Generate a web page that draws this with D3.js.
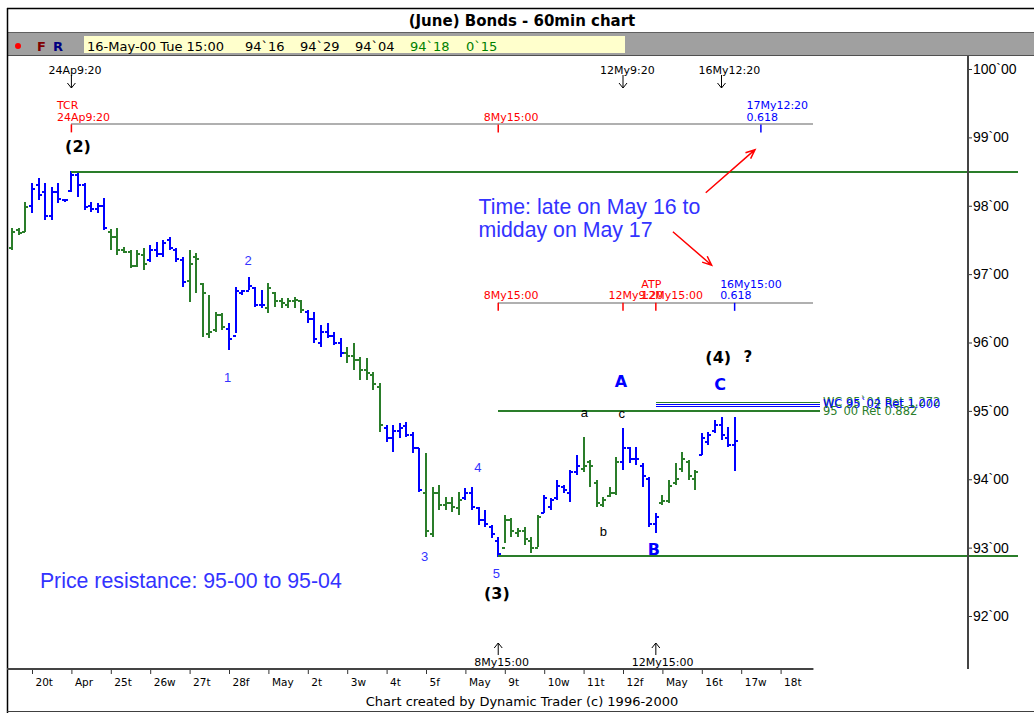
<!DOCTYPE html>
<html lang="en">
<head>
<meta charset="UTF-8">
<title>(June) Bonds - 60min chart</title>
<script src="https://d3js.org/d3.v7.min.js"></script>
<style>
  body, html { margin: 0; padding: 0; background: #fff; }
  svg { display: block; }
</style>
</head>
<body>
<div id="chart"></div>
<script>
// hourly bars, last 3 bars of 19-Apr through 16-May-00, 6 bars a day
const opens = [97.38, 97.64, 97.62,
  98.00, 98.30, 98.20, 97.85, 98.20, 98.08,
  98.22, 98.45, 98.30, 98.00, 97.95, 98.00,
  97.62, 97.55, 97.35, 97.32, 97.12, 97.28,
  97.20, 97.35, 97.30, 97.50, 97.36, 97.20,
  96.90, 97.25, 96.85, 96.12, 96.18, 96.40,
  96.20, 96.10, 96.72, 96.75, 96.80, 96.55,
  96.50, 96.72, 96.60, 96.55, 96.60, 96.60,
  96.45, 96.35, 96.00, 96.15, 96.10, 96.00,
  95.85, 95.80, 95.75, 95.60, 95.52, 95.35,
  94.75, 94.60, 94.70, 94.78, 94.65, 94.45,
  93.80, 93.20, 93.80, 93.62, 93.65, 93.58,
  93.72, 93.80, 93.58, 93.40, 93.30, 93.10,
  93.00, 93.40, 93.22, 93.25, 93.10, 93.00,
  93.50, 93.60, 93.72, 93.88, 93.80, 94.10,
  94.15, 94.25, 93.95, 93.62, 93.75, 93.80,
  94.25, 94.45, 94.30, 94.20, 94.00, 93.35,
  93.65, 93.68, 93.95, 94.15, 94.25, 94.00,
  94.35, 94.55, 94.70, 94.80, 94.60, 94.50];
const highs = [97.68, 97.68, 98.06,
  98.33, 98.41, 98.33, 98.27, 98.33, 98.10,
  98.51, 98.51, 98.33, 98.06, 98.04, 98.11,
  97.66, 97.68, 97.40, 97.35, 97.35, 97.38,
  97.43, 97.47, 97.50, 97.54, 97.38, 97.25,
  97.35, 97.31, 96.87, 96.70, 96.45, 96.43,
  96.29, 96.81, 96.77, 96.96, 96.81, 96.77,
  96.87, 96.74, 96.65, 96.65, 96.67, 96.62,
  96.48, 96.45, 96.26, 96.29, 96.15, 96.07,
  95.94, 95.99, 95.79, 95.77, 95.57, 95.41,
  94.80, 94.80, 94.82, 94.84, 94.69, 94.46,
  94.39, 93.89, 93.92, 93.74, 93.74, 93.82,
  93.87, 93.89, 93.60, 93.55, 93.33, 93.16,
  93.48, 93.44, 93.29, 93.30, 93.16, 93.48,
  93.77, 93.73, 93.99, 93.92, 94.14, 94.36,
  94.62, 94.28, 93.99, 93.74, 93.89, 94.33,
  94.75, 94.47, 94.47, 94.24, 94.04, 93.51,
  93.77, 93.99, 94.24, 94.40, 94.28, 94.14,
  94.68, 94.69, 94.87, 94.91, 94.77, 94.906];
const lows = [97.35, 97.57, 97.62,
  97.89, 98.08, 97.79, 97.79, 98.04, 98.06,
  98.20, 98.13, 97.94, 97.91, 97.89, 97.65,
  97.35, 97.28, 97.31, 97.09, 97.11, 97.06,
  97.18, 97.25, 97.25, 97.35, 97.18, 96.81,
  96.59, 96.73, 96.08, 96.07, 96.15, 96.18,
  95.89, 96.14, 96.70, 96.77, 96.52, 96.51,
  96.43, 96.52, 96.51, 96.51, 96.51, 96.43,
  96.29, 95.99, 95.94, 96.07, 95.96, 95.79,
  95.70, 95.60, 95.45, 95.45, 95.31, 94.69,
  94.54, 94.40, 94.61, 94.62, 94.39, 93.82,
  93.16, 93.16, 93.55, 93.55, 93.52, 93.48,
  93.70, 93.55, 93.33, 93.30, 93.14, 92.87,
  93.07, 93.16, 93.16, 93.04, 92.92, 93.01,
  93.51, 93.55, 93.70, 93.80, 93.67, 94.06,
  94.11, 93.89, 93.60, 93.60, 93.74, 93.77,
  94.14, 94.24, 94.21, 93.89, 93.30, 93.22,
  93.63, 93.65, 93.92, 94.11, 93.99, 93.84,
  94.36, 94.50, 94.68, 94.58, 94.47, 94.125];
const closes = [97.62, 97.60, 97.98,
  98.25, 98.15, 97.85, 98.20, 98.10, 98.08,
  98.45, 98.30, 97.98, 97.95, 98.00, 97.68,
  97.55, 97.35, 97.33, 97.12, 97.30, 97.15,
  97.35, 97.30, 97.45, 97.38, 97.22, 96.88,
  97.15, 97.22, 96.72, 96.15, 96.40, 96.22,
  96.05, 96.75, 96.75, 96.82, 96.55, 96.55,
  96.80, 96.60, 96.58, 96.60, 96.62, 96.48,
  96.35, 96.05, 96.15, 96.10, 96.00, 95.85,
  95.80, 95.75, 95.60, 95.55, 95.40, 94.80,
  94.60, 94.70, 94.75, 94.65, 94.45, 93.85,
  93.25, 93.80, 93.62, 93.65, 93.60, 93.70,
  93.80, 93.60, 93.40, 93.35, 93.20, 92.90,
  93.40, 93.25, 93.25, 93.12, 93.00, 93.45,
  93.72, 93.70, 93.90, 93.85, 94.10, 94.20,
  94.20, 94.20, 93.65, 93.70, 93.80, 94.25,
  94.45, 94.30, 94.30, 94.05, 93.35, 93.45,
  93.68, 93.90, 94.00, 94.30, 94.05, 94.10,
  94.60, 94.65, 94.80, 94.65, 94.50, 94.5625];
// bar colour for each trading day, 19-Apr .. 16-May
const dayColors = ["g", "b", "b", "g", "b", "g", "b", "g", "b", "g",
  "b", "g", "b", "g", "b", "g", "b", "g", "b"];
const dayLabels = ["20t", "Apr", "25t", "26w", "27t", "28f", "May", "2t", "3w", "4t",
  "5f", "May", "9t", "10w", "11t", "12f", "May", "16t", "17w", "18t"];
const priceTicks = [92, 93, 94, 95, 96, 97, 98, 99, 100];
const statusFields = ["16-May-00 Tue 15:00", "94`16", "94`29", "94`04", "94`18", "0`15"];

// time markers (bar index counted from the first bar of 20-Apr)
const topArrowBars = [6, 90, 105];
const topArrowText = ["24Ap9:20", "12My9:20", "16My12:20"];
const bottomArrowBars = [71, 95];
const bottomArrowText = ["8My15:00", "12My15:00"];
const ruler1Bars = [6, 71, 111];
const ruler1Text = [["TCR", "24Ap9:20"], ["8My15:00"], ["17My12:20", "0.618"]];
const ruler1Cols = ["r", "r", "b"];
const ruler2Bars = [71, 90, 95, 107];
const ruler2Text = [["8My15:00"], ["12My9:20"], ["ATP", "12My15:00"], ["16My15:00", "0.618"]];
const ruler2Cols = ["r", "r", "r", "b"];

// price levels
const wave2High = 98.5;
const wave5Low = 92.875;
const resLevels = [95.125, 95.094, 95.0625, 95.0];
const resCols = ["g", "b", "b", "g"];
const resText = ["WC 95`04 Ret 1.272", "WC 95`02 Ret 1.000", "", "95`00 Ret 0.882"];

const W = 1034, H = 713;
const plotTop = 56, plotRight = 968, axisY = 669;
const red = "#ff0000", blue = "#0000ff", lblue = "#3333ff", green = "#2a7d2a";
const colOf = { r: red, b: blue, g: green };
const arial = "Liberation Sans, Arial, sans-serif";

const x = d3.scaleLinear().domain([0, 120]).range([32, 820]);
const y = d3.scaleLinear().domain([92, 100]).range([616, 69]);

const svg = d3.select("#chart").append("svg")
  .attr("width", W).attr("height", H)
  .attr("font-family", "DejaVu Sans, sans-serif");

svg.append("rect").attr("width", W).attr("height", H).attr("fill", "#fff");

// window chrome: title bar and status row
svg.append("text").attr("x", 522).attr("y", 26).attr("text-anchor", "middle")
  .attr("font-size", 15).attr("font-weight", "bold").attr("fill", "#000")
  .text("(June) Bonds - 60min chart");
svg.append("rect").attr("x", 8).attr("y", 33).attr("width", W - 8).attr("height", 22).attr("fill", "#a0a0a0");
svg.append("line").attr("x1", 8).attr("x2", W).attr("y1", 32.5).attr("y2", 32.5).attr("stroke", "#606060");
svg.append("line").attr("x1", 8).attr("x2", W).attr("y1", 55.5).attr("y2", 55.5).attr("stroke", "#505050");
svg.append("rect").attr("x", 84).attr("y", 36).attr("width", 541).attr("height", 17).attr("fill", "#ffffcc");
svg.append("circle").attr("cx", 18).attr("cy", 46).attr("r", 3).attr("fill", red);
svg.append("text").attr("x", 37).attr("y", 51).attr("font-size", 13).attr("font-weight", "bold")
  .attr("fill", "#800000").text("F");
svg.append("text").attr("x", 53).attr("y", 51).attr("font-size", 13).attr("font-weight", "bold")
  .attr("fill", "#000080").text("R");
const statusX = [87, 245, 300, 355, 410, 466];
statusFields.forEach((t, k) => {
  svg.append("text").attr("x", statusX[k]).attr("y", 51).attr("font-size", 13)
    .attr("fill", k >= 4 ? "#008000" : "#000").text(t);
});

// frame
svg.append("line").attr("x1", 7).attr("x2", W).attr("y1", 8.5).attr("y2", 8.5).attr("stroke", "#000").attr("stroke-width", 1.5);
svg.append("line").attr("x1", 7.5).attr("x2", 7.5).attr("y1", 8).attr("y2", H).attr("stroke", "#000").attr("stroke-width", 1.5);
svg.append("line").attr("x1", 7).attr("x2", W).attr("y1", 711.5).attr("y2", 711.5).attr("stroke", "#404040");

// bars
const bars = highs.map((h, k) => {
  const i = k - 3;
  return { i, o: opens[k], h, l: lows[k], c: closes[k], col: dayColors[Math.floor(i / 6) + 1] };
});
const gb = svg.append("g").attr("stroke-width", 2).attr("shape-rendering", "crispEdges");
const bar = gb.selectAll("g").data(bars).join("g").attr("stroke", d => colOf[d.col]);
bar.append("line").attr("x1", d => x(d.i)).attr("x2", d => x(d.i))
  .attr("y1", d => y(d.h)).attr("y2", d => y(d.l));
bar.append("line").attr("x1", d => x(d.i) - 3).attr("x2", d => x(d.i))
  .attr("y1", d => y(d.o)).attr("y2", d => y(d.o));
bar.append("line").attr("x1", d => x(d.i)).attr("x2", d => x(d.i) + 3)
  .attr("y1", d => y(d.c)).attr("y2", d => y(d.c));

// green swing lines
svg.append("line").attr("x1", x(6)).attr("x2", 1018).attr("y1", y(wave2High)).attr("y2", y(wave2High))
  .attr("stroke", green).attr("stroke-width", 2).attr("shape-rendering", "crispEdges");
svg.append("line").attr("x1", x(71)).attr("x2", 1018).attr("y1", y(wave5Low)).attr("y2", y(wave5Low))
  .attr("stroke", green).attr("stroke-width", 2).attr("shape-rendering", "crispEdges");

// resistance levels
resLevels.forEach((p, k) => {
  svg.append("line").attr("x1", x(k === 3 ? 71 : 95)).attr("x2", x(120))
    .attr("y1", y(p)).attr("y2", y(p)).attr("stroke", colOf[resCols[k]])
    .attr("stroke-width", 1.5).attr("shape-rendering", "crispEdges");
});
resLevels.forEach((p, k) => {
  if (!resText[k]) return;
  svg.append("text").attr("x", x(120) + 3).attr("y", y(p) + 4).attr("font-size", 11.5)
    .attr("fill", colOf[resCols[k]]).text(resText[k]);
});

// time rulers
function ruler(price, fromBar, marks, texts, cols) {
  const ry = y(price);
  svg.append("line").attr("x1", x(fromBar)).attr("x2", x(119)).attr("y1", ry).attr("y2", ry)
    .attr("stroke", "#b0b0b0").attr("stroke-width", 2).attr("shape-rendering", "crispEdges");
  marks.forEach((b, k) => {
    const c = colOf[cols[k]];
    svg.append("line").attr("x1", x(b)).attr("x2", x(b)).attr("y1", ry).attr("y2", ry + 8)
      .attr("stroke", c).attr("stroke-width", 1.5);
    const lines = texts[k];
    lines.forEach((t, j) => {
      svg.append("text").attr("x", x(b) - 14.5)
        .attr("y", ry - 3.5 - (lines.length - 1 - j) * 11.5)
        .attr("font-size", 11).attr("fill", c).text(t);
    });
  });
}
ruler(99.19, 6, ruler1Bars, ruler1Text, ruler1Cols);
ruler(96.58, 71, ruler2Bars, ruler2Text, ruler2Cols);

// top and bottom time arrows
topArrowBars.forEach((b, k) => {
  const ax = x(b);
  svg.append("text").attr("x", ax - 23).attr("y", plotTop + 18).attr("font-size", 11).attr("fill", "#000").text(topArrowText[k]);
  svg.append("path").attr("d", `M${ax},${plotTop + 19}V${plotTop + 32}M${ax - 4},${plotTop + 27}L${ax},${plotTop + 32}L${ax + 4},${plotTop + 27}`)
    .attr("fill", "none").attr("stroke", "#000");
});
bottomArrowBars.forEach((b, k) => {
  const ax = x(b);
  svg.append("text").attr("x", ax - 24).attr("y", axisY - 3).attr("font-size", 11).attr("fill", "#000").text(bottomArrowText[k]);
  svg.append("path").attr("d", `M${ax},${axisY - 14}V${axisY - 26}M${ax - 4},${axisY - 21}L${ax},${axisY - 26}L${ax + 4},${axisY - 21}`)
    .attr("fill", "none").attr("stroke", "#000");
});

// red arrows pointing at the time targets
function redArrow(i1, p1, i2, p2) {
  const x1 = x(i1), y1 = y(p1), x2 = x(i2), y2 = y(p2);
  const a = Math.atan2(y2 - y1, x2 - x1);
  const hx = (da) => x2 - 10 * Math.cos(a + da), hy = (da) => y2 - 10 * Math.sin(a + da);
  svg.append("path")
    .attr("d", `M${x1},${y1}L${x2},${y2}M${hx(0.4)},${hy(0.4)}L${x2},${y2}L${hx(-0.4)},${hy(-0.4)}`)
    .attr("fill", "none").attr("stroke", red).attr("stroke-width", 1.5);
}
redArrow(102.6, 98.19, 110.1, 98.82);
redArrow(97.6, 97.62, 103.5, 97.13);

// price axis
const yAxis = d3.axisRight(y).tickValues(priceTicks).tickSize(4).tickFormat(d => d + "`00");
svg.append("g").attr("transform", `translate(${plotRight},0)`).call(yAxis)
  .call(g => g.select(".domain").remove())
  .call(g => g.selectAll("line").attr("stroke", "#333"))
  .call(g => g.selectAll("text").attr("x", 5).attr("font-family", arial)
    .attr("font-size", 14).attr("fill", "#000"));
svg.append("line").attr("x1", plotRight).attr("x2", plotRight).attr("y1", plotTop).attr("y2", axisY)
  .attr("stroke", "#444").attr("stroke-width", 2);

// time axis
const xAxis = d3.axisBottom(x).tickValues(dayLabels.map((_, d) => d * 6)).tickSize(5)
  .tickFormat((d, k) => dayLabels[k]);
svg.append("g").attr("transform", `translate(0,${axisY})`).call(xAxis)
  .call(g => g.select(".domain").remove())
  .call(g => g.selectAll("line").attr("stroke", "#333"))
  .call(g => g.selectAll("text").attr("text-anchor", "start").attr("x", 3).attr("y", 10)
    .attr("font-family", "DejaVu Sans, sans-serif").attr("font-size", 10.5).attr("fill", "#000"));
svg.append("line").attr("x1", 7).attr("x2", x(119)).attr("y1", axisY).attr("y2", axisY)
  .attr("stroke", "#444").attr("stroke-width", 2);

svg.append("text").attr("x", 522).attr("y", 706).attr("text-anchor", "middle").attr("font-size", 13)
  .attr("fill", "#000").text("Chart created by Dynamic Trader (c) 1996-2000");

// wave labels
function label(i, p, t, size, col, bold, font) {
  svg.append("text").attr("x", x(i)).attr("y", y(p)).attr("text-anchor", "middle")
    .attr("font-family", font || "DejaVu Sans, sans-serif")
    .attr("font-size", size).attr("fill", col).attr("font-weight", bold ? "bold" : "normal").text(t);
}
label(7, 98.79, "(2)", 16, "#000", true);
label(70.8, 92.25, "(3)", 16, "#000", true);
label(104.5, 95.70, "(4)", 16, "#000", true);
label(109, 95.71, "?", 15, "#000", true);
label(29.8, 95.42, "1", 13, lblue, false, arial);
label(32.9, 97.13, "2", 13, lblue, false, arial);
label(59.8, 92.80, "3", 13, lblue, false, arial);
label(67.9, 94.11, "4", 13, lblue, false, arial);
label(70.7, 92.56, "5", 13, lblue, false, arial);
label(89.7, 95.35, "A", 16, blue, true);
label(94.7, 92.89, "B", 16, blue, true);
label(104.8, 95.31, "C", 16, blue, true);
label(84.1, 94.91, "a", 13, "#000", false, arial);
label(87.0, 93.17, "b", 13, "#000", false, arial);
label(89.8, 94.90, "c", 13, "#000", false, arial);

svg.append("g").attr("font-family", arial).attr("font-size", 21.3).attr("fill", lblue)
  .call(g => {
    g.append("text").attr("x", x(68)).attr("y", y(97.88)).text("Time: late on May 16 to");
    g.append("text").attr("x", x(68)).attr("y", y(97.54)).text("midday on May 17");
    g.append("text").attr("x", x(1.2)).attr("y", y(92.41)).text("Price resistance: 95-00 to 95-04");
  });
</script>
</body>
</html>
